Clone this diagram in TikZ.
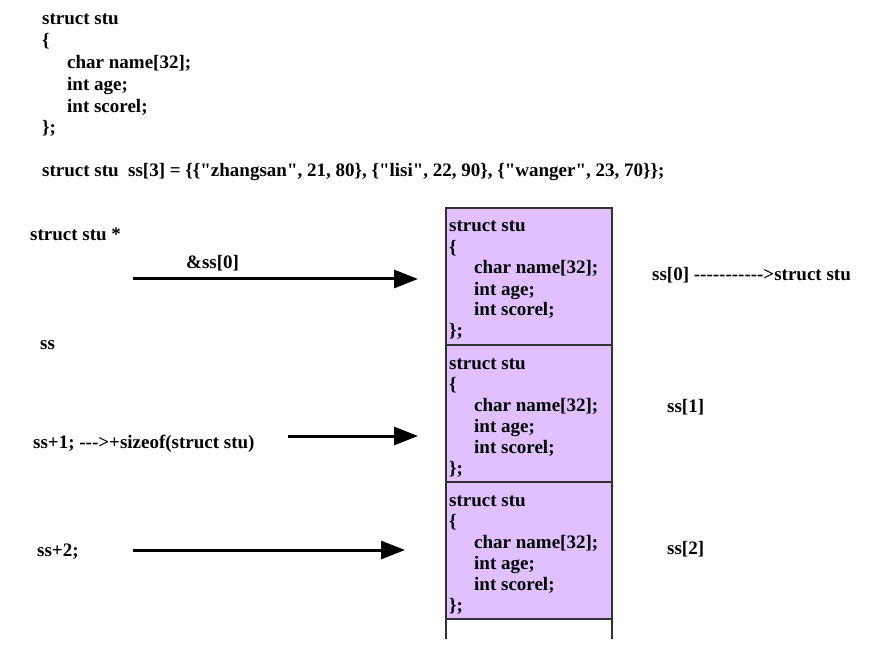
\documentclass[tikz,border=0pt]{standalone}
\usepackage{fontspec}
\setmainfont{Liberation Serif}[Ligatures=TeXOff]
\usetikzlibrary{arrows.meta,positioning}

\definecolor{cellfill}{RGB}{224,192,255}
\definecolor{edge}{RGB}{50,50,50}

\newcommand{\ind}{\hspace*{25pt}}
\newcommand{\stubody}{struct stu\\\{\\\ind char name[32];\\\ind int age;\\\ind int scorel;\\\};}

\tikzset{
  code/.style={font=\bfseries\fontsize{19}{21.8}\selectfont, inner sep=0pt, anchor=base west, align=left},
  cell/.style={draw=edge, line width=2pt, fill=cellfill, minimum width=166pt,
    minimum height=137pt, inner sep=0pt, outer sep=0pt, anchor=north west},
  ptr/.style={line width=3pt, -{Triangle[length=24pt,width=18pt]}},
}

\begin{document}
\begin{tikzpicture}[x=1pt,y=-1pt]
\useasboundingbox (0,0) rectangle (878,652);

% declaration and initialisation (base = last line)
\node[code] (decl) at (42,134) {\stubody};
\node[code] (init) at (42,177) {struct stu\ \ ss[3] = \{\{"zhangsan", 21, 80\}, \{"lisi", 22, 90\}, \{"wanger", 23, 70\}\};};

% the array in memory
\node[cell] (cell0) at (446,208) {};
\node[cell, below=0pt of cell0] (cell1) {};
\node[cell, below=0pt of cell1] (cell2) {};
\draw[draw=edge, line width=2pt] (cell2.south west) -- ++(0,20);
\draw[draw=edge, line width=2pt] (cell2.south east) -- ++(0,20);
\foreach \c in {0,1,2}
  \node[code, font=\bfseries\fontsize{19}{21}\selectfont] (body\c) at ([shift={(3,129)}]cell\c.north west) {\stubody};

% pointers
\node[code] (type) at (30,241) {struct stu *};
\node[code] (addr) at (186,269) {\&ss[0]};
\node[code] (name) at (40,349) {ss};
\node[code] (next) at (33,448) {ss+1; --->+sizeof(struct stu)};
\node[code] (last) at (37,556) {ss+2;};
\coordinate (p0) at (133,279);
\coordinate (p1) at (288,436);
\coordinate (p2) at (133,550);
\draw[ptr, shorten >=28pt] (p0) -- (p0 -| cell0.west);
\draw[ptr, shorten >=28pt] (p1) -- (p1 -| cell1.west);
\draw[ptr, shorten >=41pt] (p2) -- (p2 -| cell2.west);

% elements
\node[code] (el0) at (652,280) {ss[0] ----------->struct stu};
\node[code] (el1) at (667,412) {ss[1]};
\node[code] (el2) at (667,554) {ss[2]};
\end{tikzpicture}
\end{document}
